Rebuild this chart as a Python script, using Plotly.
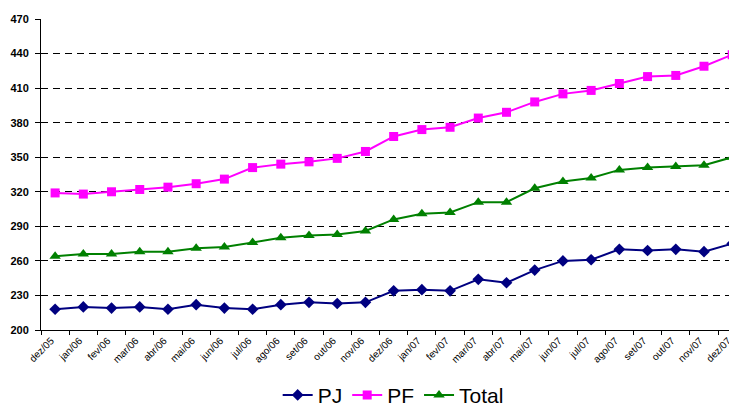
import plotly.graph_objects as go

categories = ["dez/05", "jan/06", "fev/06", "mar/06", "abr/06", "mai/06", "jun/06", "jul/06",
              "ago/06", "set/06", "out/06", "nov/06", "dez/06", "jan/07", "fev/07", "mar/07",
              "abr/07", "mai/07", "jun/07", "jul/07", "ago/07", "set/07", "out/07", "nov/07", "dez/07"]

pj = [218, 220, 219, 220, 218, 222, 219, 218, 222, 224, 223, 224, 234, 235, 234, 244,
      241, 252, 260, 261, 270, 269, 270, 268, 275]
pf = [319, 318, 320, 322, 324, 327, 331, 341, 344, 346, 349, 355, 368, 374, 376, 384,
      389, 398, 405, 408, 414, 420, 421, 429, 439]
total = [264, 266, 266, 268, 268, 271, 272, 276, 280, 282, 283, 286, 296, 301, 302, 311,
         311, 323, 329, 332, 339, 341, 342, 343, 350]

y_ticks = [200, 230, 260, 290, 320, 350, 380, 410, 440, 470]

fig = go.Figure()
fig.add_trace(go.Scatter(x=categories, y=pj, name="PJ", mode="lines+markers",
                         line=dict(color="#000080", width=2),
                         marker=dict(symbol="diamond", size=9, color="#000080")))
fig.add_trace(go.Scatter(x=categories, y=pf, name="PF", mode="lines+markers",
                         line=dict(color="#FF00FF", width=2),
                         marker=dict(symbol="square", size=9, color="#FF00FF")))
fig.add_trace(go.Scatter(x=categories, y=total, name="Total", mode="lines+markers",
                         line=dict(color="#008000", width=2),
                         marker=dict(symbol="triangle-up", size=10, color="#008000")))

fig.update_layout(
    width=729, height=399,
    margin=dict(l=33, r=0, t=11, b=77, autoexpand=False),
    paper_bgcolor="white", plot_bgcolor="white",
    font=dict(family="Liberation Sans, Arial, sans-serif", color="black"),
    showlegend=True,
    legend=dict(orientation="h", x=0.506, xanchor="center", y=-0.21, yanchor="middle",
                font=dict(size=21), itemwidth=30, tracegroupgap=0),
)
fig.update_xaxes(type="category", range=[-0.5, 24.17], tickangle=-45, automargin=False,
                 tickfont=dict(size=10), ticklabelshift=-4, showgrid=False, showline=True,
                 linecolor="black", linewidth=1, ticks="outside", ticklen=4,
                 tickson="boundaries", tickcolor="black")
fig.update_yaxes(range=[200, 470], tickvals=y_ticks, tickfont=dict(size=11, weight="bold"),
                 automargin=False, ticklabelstandoff=4,
                 showgrid=True, gridcolor="black", gridwidth=1, griddash="7px,5px",
                 showline=True, linecolor="black", linewidth=1, ticks="outside",
                 ticklen=5, tickcolor="black", zeroline=False)

fig.write_html("out.html")
